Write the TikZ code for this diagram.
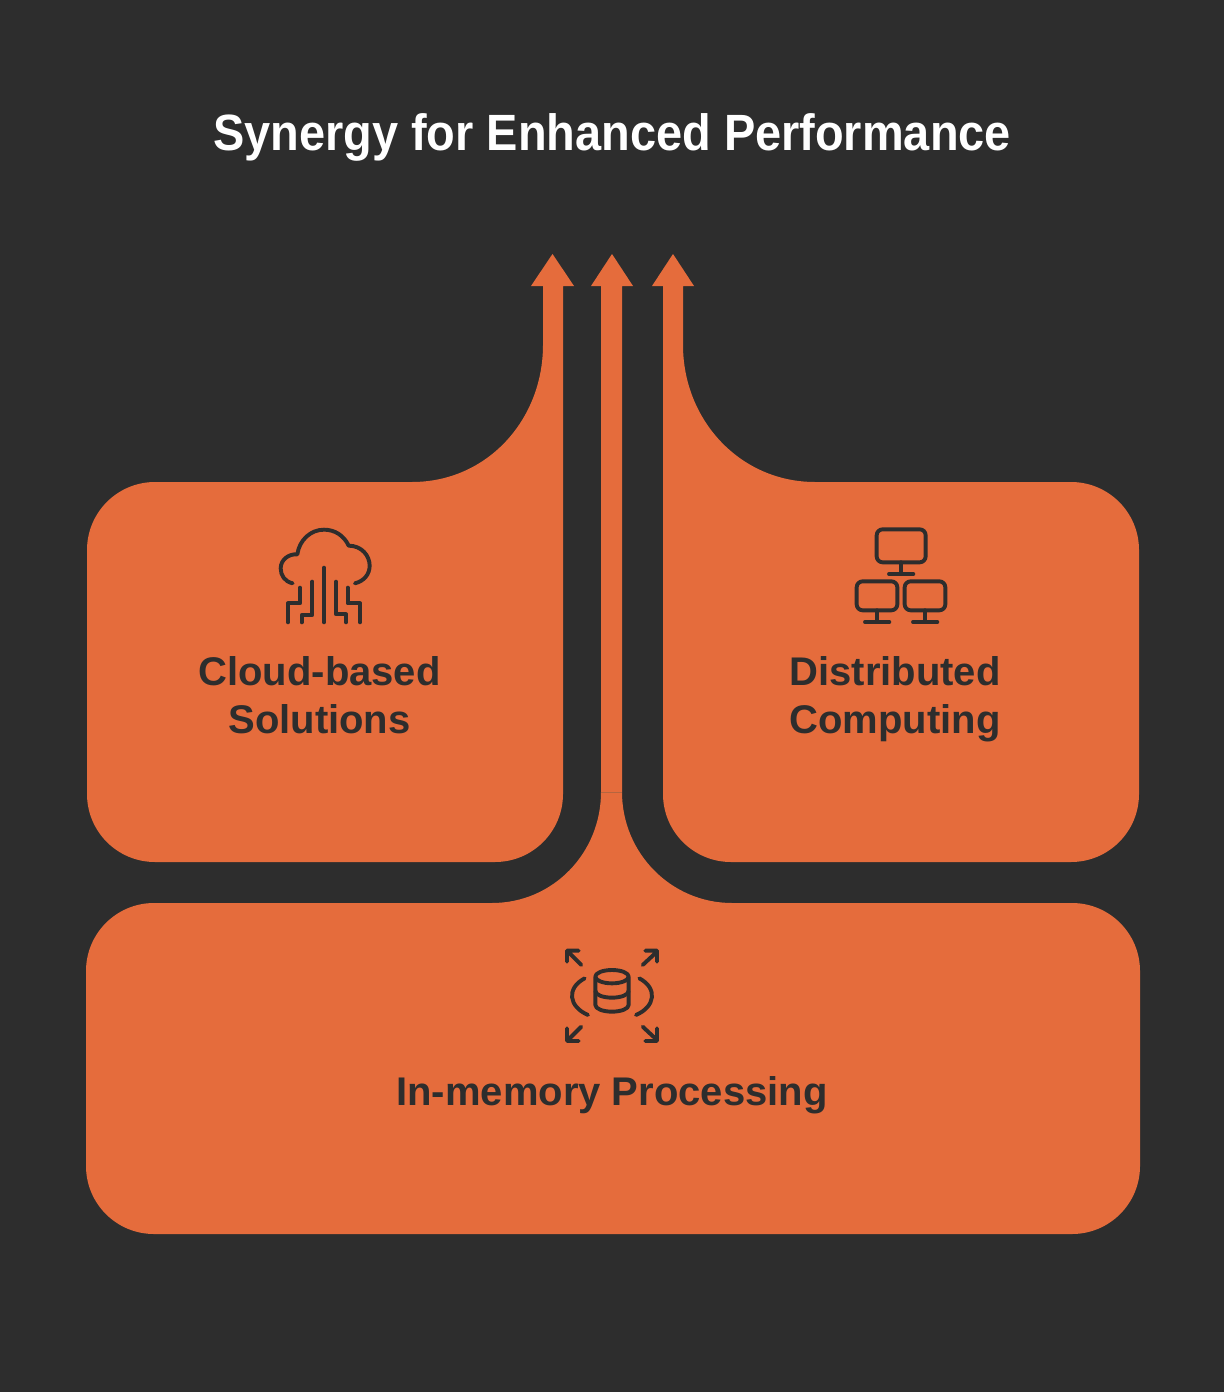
\documentclass[tikz,border=0pt]{standalone}
\usepackage{fontspec}
\setmainfont{Liberation Sans}
\usetikzlibrary{positioning}
\definecolor{panelbg}{HTML}{2D2D2D}
\definecolor{flame}{HTML}{E56C3C}
\definecolor{seam}{HTML}{B5653F}

\begin{document}
\begin{tikzpicture}[
  x=1pt, y=-1pt,
  panel/.style={fill=flame, draw=none},
  icon/.style={draw=panelbg, line width=3.9pt, line cap=round, line join=round},
  heading/.style={font=\fontsize{51}{60}\selectfont\bfseries, text=white, inner sep=0pt, xscale=0.92, transform shape},
  label/.style={font=\fontsize{40}{48}\selectfont\bfseries, text=panelbg, align=center, inner sep=0pt},
]

% Background
\fill[panelbg] (0,0) rectangle (1224,1392);
\useasboundingbox (0,0) rectangle (1224,1392);

% Title
\node[heading] (title) at (612,137) {Synergy for Enhanced Performance};

% Left panel
\path[panel] (412,482) [rounded corners=68pt] -- (87,482) -- (87,862) -- (563,862) -- (563,700)
  [sharp corners] -- (563,286) -- (574,286) -- (552.5,254) -- (531,286) -- (543,286) -- (543,345)
  .. controls (543,420) and (487,482) .. (412,482) -- cycle;

% Right panel
\path[panel] (815,482) [rounded corners=68pt] -- (1139,482) -- (1139,862) -- (663,862) -- (663,700)
  [sharp corners] -- (663,286) -- (652,286) -- (673,254) -- (694,286) -- (683,286) -- (683,345)
  .. controls (683,420) and (740,482) .. (815,482) -- cycle;

% Centre shaft
\path[panel] (601,792) -- (601,286) -- (591,286) -- (612,254) -- (633,286) -- (622,286) -- (622,792) -- cycle;

% Bottom panel
\path[panel] (492,903) [rounded corners=68pt] -- (86,903) -- (86,1234) -- (1140,1234) -- (1140,903)
  [sharp corners] -- (732,903) .. controls (671,903) and (622,853) .. (622,792) -- (601,792)
  .. controls (601,853) and (553,903) .. (492,903) -- cycle;
\draw[seam, line width=0.8pt] (601,792) -- (622,792);

% Labels
\node[label] (cloud) at (319.5,695) {Cloud-based\\Solutions};
\node[label] (dist) at (895,699) {Distributed\\Computing};
\node[label] (memory) at (612,1095) {In-memory Processing};

% Cloud icon
\begin{scope}[shift={(260,515)}, x=0.3333pt, y=-0.3333pt]
  \draw[icon] (98,205) .. controls (75,200) and (62,182) .. (62,160)
    .. controls (62,135) and (85,116) .. (112,118)
    .. controls (118,75) and (152,44) .. (192,44)
    .. controls (225,44) and (252,62) .. (266,92)
    .. controls (305,92) and (329,122) .. (329,152)
    .. controls (329,178) and (312,198) .. (285,205);
  \draw[icon] (192,158) -- (192,322);
  \draw[icon] (157,200) -- (157,300) -- (125,300) -- (125,322);
  \draw[icon] (120,218) -- (120,265) -- (84,265) -- (84,322);
  \draw[icon] (228,200) -- (228,298) -- (258,298) -- (258,322);
  \draw[icon] (263,218) -- (263,265) -- (300,265) -- (300,322);
\end{scope}

% Monitors icon
\begin{scope}[shift={(840,515)}, x=0.3333pt, y=-0.3333pt]
  \draw[icon, rounded corners=6pt] (110,43) rectangle (257,142);
  \draw[icon] (183,142) -- (183,177) (147,177) -- (220,177);
  \draw[icon, rounded corners=6pt] (50,199) rectangle (172,286);
  \draw[icon] (111,286) -- (111,321) (75,321) -- (148,321);
  \draw[icon, rounded corners=6pt] (194,199) rectangle (316,286);
  \draw[icon] (255,286) -- (255,321) (219,321) -- (292,321);
\end{scope}

% Database icon
\begin{scope}[shift={(552,935)}, x=0.3333pt, y=-0.3333pt]
  \draw[icon] (130,125) .. controls (130,114) and (152,105) .. (180,105)
    .. controls (208,105) and (230,114) .. (230,125)
    .. controls (230,136) and (208,145) .. (180,145)
    .. controls (152,145) and (130,136) .. (130,125) -- (130,210)
    .. controls (130,221) and (152,230) .. (180,230)
    .. controls (208,230) and (230,221) .. (230,210) -- (230,125);
  \draw[icon] (130,168) .. controls (130,179) and (152,188) .. (180,188)
    .. controls (208,188) and (230,179) .. (230,168);
  \draw[icon] (98,130) .. controls (42,160) and (50,215) .. (108,240);
  \draw[icon] (262,130) .. controls (318,160) and (310,215) .. (252,240);
  \draw[icon] (88,90) -- (48,50) (45,80) -- (45,47) -- (80,47);
  \draw[icon] (272,90) -- (315,50) (280,47) -- (315,47) -- (315,80);
  \draw[icon] (88,275) -- (48,315) (45,280) -- (45,318) -- (80,318);
  \draw[icon] (272,275) -- (315,315) (280,318) -- (315,318) -- (315,280);
\end{scope}

\end{tikzpicture}
\end{document}
